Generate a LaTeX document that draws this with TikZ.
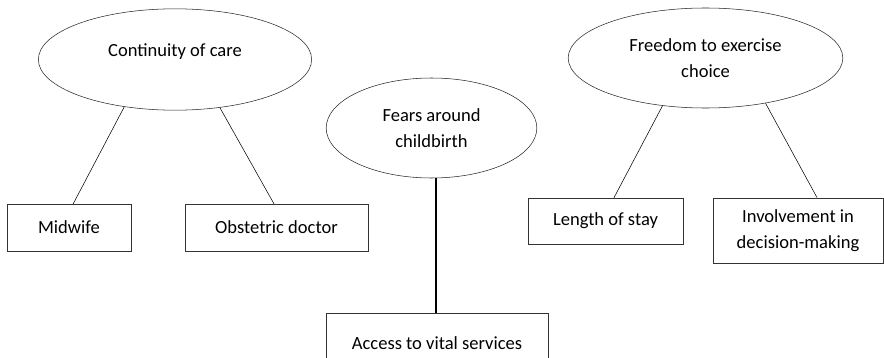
\documentclass[tikz,border=0pt]{standalone}
\usepackage{fontspec}
\setmainfont{Carlito}
\usetikzlibrary{shapes.geometric, positioning}
\tikzstyle{oval}=[ellipse,draw=black!85,thin,inner sep=0pt,align=center,font=\fontsize{13.9pt}{19pt}\selectfont]
\tikzstyle{item}=[rectangle,draw=black!80,thin,inner sep=0pt,align=center,font=\fontsize{13.9pt}{19pt}\selectfont]
\tikzstyle{link}=[black,thin]

\begin{document}
\begin{tikzpicture}[x=0.75pt,y=-0.75pt]
  \useasboundingbox (0,0) rectangle (884,357);
  \clip (0,0) rectangle (884,357);
  % themes
  \node[oval,minimum width=205pt,minimum height=76pt,text depth=14pt] (care) at (175,59.5) {Continuity of care};
  \node[oval,minimum width=158pt,minimum height=75pt] (fears) at (431.5,128) {Fears around\\childbirth};
  \node[oval,minimum width=206pt,minimum height=75pt] (choice) at (705.5,58) {Freedom to exercise\\choice};
  % sub-themes
  \node[item,minimum width=93pt,minimum height=35pt] (midwife) at (69,227.5) {Midwife};
  \node[item,minimum width=137pt,minimum height=35pt] (doctor) at (276.5,227.5) {Obstetric doctor};
  \node[item,minimum width=116pt,minimum height=34.5pt] (stay) at (605.5,221) {Length of stay};
  \node[item,minimum width=127.5pt,minimum height=49pt] (involve) at (798,230.5) {Involvement in\\decision-making};
  \node[item,minimum width=166.5pt,minimum height=45pt,anchor=north] (access) at (437,313) {};
  \node[font=\fontsize{13.9pt}{19pt}\selectfont] (accessT) at (437,343) {Access to vital services};
  % connectors
  \draw[link] (care.223) -- (midwife.80);
  \draw[link] (care.313) -- (doctor.96);
  \draw[link] (choice.228) -- (stay.70);
  \draw[link] (choice.323) -- (involve.60);
  \draw[black,line width=1.2pt] (fears.275) -- (fears.275 |- access.north);
\end{tikzpicture}
\end{document}
